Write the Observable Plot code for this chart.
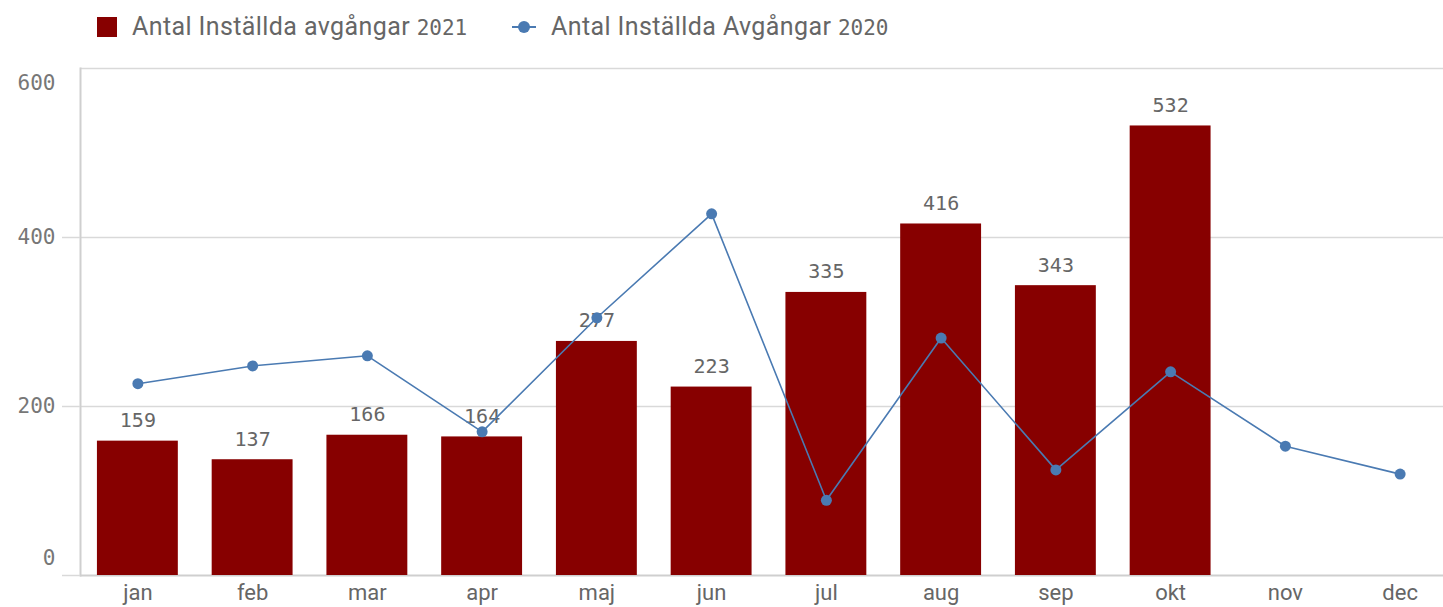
<!DOCTYPE html>
<html>
<head>
<meta charset="utf-8">
<script src="https://cdn.jsdelivr.net/npm/d3@7"></script>
<script src="https://cdn.jsdelivr.net/npm/@observablehq/plot@0.6"></script>
<style>
  html, body { margin: 0; padding: 0; background: #fff; }
  #legend { position: relative; height: 55px; font-family: "Roboto", sans-serif; font-size: 25px; letter-spacing: 0.4px; color: #666; }
  .item { position: absolute; top: 12px; height: 30px; line-height: 30px; white-space: nowrap; }
  .num { font-family: "DejaVu Sans Mono", monospace; font-size: 21px; letter-spacing: 0; }
  .sq { position: absolute; width: 20px; height: 20px; background: #870000; top: 17px; left: 97px; }
  .mk { position: absolute; left: 512px; top: 26px; width: 24px; height: 2px; background: #4a7ab2; }
  .dt { position: absolute; left: 518px; top: 21px; width: 12px; height: 12px; border-radius: 50%; background: #4a7ab2; }
  #chart svg { display: block; }
</style>
</head>
<body>
<div id="legend">
  <div class="sq"></div>
  <div class="item" style="left:132px">Antal Inställda avgångar <span class="num">2021</span></div>
  <div class="mk"></div><div class="dt"></div>
  <div class="item" style="left:551px">Antal Inställda Avgångar <span class="num">2020</span></div>
</div>
<div id="chart"></div>
<script>
const months = ["jan","feb","mar","apr","maj","jun","jul","aug","sep","okt","nov","dec"];
const values2021 = [159, 137, 166, 164, 277, 223, 335, 416, 343, 532];
const values2020 = [227, 248, 260, 170, 305, 428, 89, 281, 125, 241, 153, 120];
const yTicks = [0, 200, 400, 600];

const bars = values2021.map((v, i) => ({month: months[i], value: v}));
const line = values2020.map((v, i) => ({month: months[i], value: v}));

const numFont = "DejaVu Sans Mono, monospace";
const txtFont = "Roboto, sans-serif";

const chart = Plot.plot({
  width: 1443,
  height: 552,
  marginLeft: 80,
  marginRight: 0,
  marginTop: 13,
  marginBottom: 32,
  x: {type: "band", domain: months, range: [80, 1457], paddingInner: 0.295, paddingOuter: 0.1475, align: 0.5, round: false},
  y: {domain: [0, 600], range: [520, 13]},
  marks: [
    Plot.ruleY(yTicks.slice(1), {stroke: "#d9d9d9", strokeWidth: 1.5}),
    Plot.ruleY([0], {stroke: "#cfcfcf", strokeWidth: 2}),
    Plot.frame({anchor: "left", stroke: "#cfcfcf", strokeWidth: 2}),
    Plot.axisY({ticks: yTicks.slice(0, 3), tickSize: 18, tickFormat: () => "", stroke: "#d9d9d9", strokeWidth: 1.5, label: null}),
    Plot.axisY({ticks: yTicks.slice(1, 3), tickSize: 0, tickPadding: 25, fontSize: 21, fontFamily: numFont, fill: "#777", label: null}),
    Plot.axisY({ticks: [0], tickSize: 0, tickPadding: 25, fontSize: 21, fontFamily: numFont, fill: "#777", label: null, dy: -17}),
    Plot.axisY({ticks: [600], tickSize: 0, tickPadding: 25, fontSize: 21, fontFamily: numFont, fill: "#777", label: null, dy: 15}),
    Plot.axisX({tickSize: 0, tickPadding: 9, fontSize: 22, fontFamily: txtFont, fill: "#666", label: null}),
    Plot.barY(bars, {x: "month", y: "value", fill: "#870000"}),
    Plot.text(bars, {x: "month", y: "value", text: d => String(d.value), lineAnchor: "bottom", dy: -14, fontSize: 20, fontFamily: numFont, fill: "#666"}),
    Plot.lineY(line, {x: "month", y: "value", stroke: "#4a7ab2", strokeWidth: 1.6}),
    Plot.dot(line, {x: "month", y: "value", r: 5.5, fill: "#4a7ab2"})
  ]
});
document.getElementById("chart").appendChild(chart);
</script>
</body>
</html>
